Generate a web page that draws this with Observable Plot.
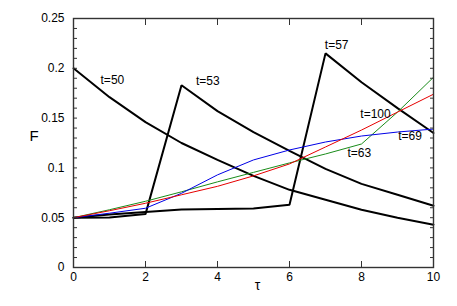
<!DOCTYPE html>
<html>
<head>
<meta charset="utf-8">
<script src="https://cdn.jsdelivr.net/npm/d3@7"></script>
<script src="https://cdn.jsdelivr.net/npm/@observablehq/plot@0.6"></script>
<style>
  html, body { margin: 0; padding: 0; background: #fff; }
  #chart svg { display: block; }
</style>
</head>
<body>
<div id="chart"></div>
<script>
const tau = [0, 1, 2, 3, 4, 5, 6, 7, 8, 9, 10];

const t50  = [0.200, 0.171, 0.146, 0.125, 0.108, 0.092, 0.078, 0.068, 0.058, 0.050, 0.043];
const t53  = [0.050, 0.0502, 0.0536, 0.183, 0.157, 0.136, 0.117, 0.099, 0.084, 0.073, 0.062];
const t57  = [0.050, 0.0532, 0.0558, 0.0582, 0.0588, 0.0592, 0.063, 0.215, 0.186, 0.160, 0.135];
const t63  = [0.050, 0.058, 0.0665, 0.076, 0.086, 0.0955, 0.105, 0.114, 0.124, 0.156, 0.191];
const t69  = [0.050, 0.0545, 0.0595, 0.0745, 0.093, 0.108, 0.118, 0.126, 0.132, 0.136, 0.139];
const t100 = [0.050, 0.057, 0.0645, 0.073, 0.0815, 0.092, 0.104, 0.121, 0.138, 0.156, 0.174];

const seriesNames = ["t=50", "t=53", "t=57", "t=63", "t=69", "t=100"];
const seriesValues = [t50, t53, t57, t63, t69, t100];
const seriesColors = ["#000", "#000", "#000", "#1a8c1a", "#0000e6", "#e60000"];
const seriesWidths = [2, 2, 2, 1, 1, 1];

const labelText = ["t=50", "t=53", "t=57", "t=100", "t=69", "t=63"];
const labelTau  = [1.08, 3.73, 7.31, 8.39, 9.35, 7.94];
const labelF    = [0.188, 0.187, 0.223, 0.154, 0.1317, 0.1147];

const xTicks = [0, 2, 4, 6, 8, 10];
const yTicks = [0, 0.05, 0.1, 0.15, 0.2, 0.25];
const yMinor = d3.range(0, 26).map(i => +(i / 100).toFixed(2));

const rows = seriesNames.flatMap((name, i) =>
  tau.map((t, j) => ({series: name, tau: t, F: seriesValues[i][j]})));

const labels = labelText.map((s, i) => ({text: s, tau: labelTau[i], F: labelF[i]}));

const lineMarks = seriesNames.map((name, i) =>
  Plot.line(rows.filter(r => r.series === name), {
    x: "tau", y: "F",
    stroke: seriesColors[i],
    strokeWidth: seriesWidths[i],
    strokeLinejoin: "miter"
  }));

const chart = Plot.plot({
  width: 457,
  height: 306,
  marginLeft: 73,
  marginRight: 24,
  marginTop: 18,
  marginBottom: 39,
  style: {fontFamily: "Liberation Sans, Arial, Helvetica, sans-serif", fontSize: "12px", color: "#000", background: "#fff"},
  x: {domain: [0, 10]},
  y: {domain: [0, 0.25]},
  marks: [
    ...lineMarks,
    // inward ticks
    Plot.axisY(yMinor, {anchor: "left", tickSize: -4, tickFormat: () => "", label: null, stroke: "#333"}),
    Plot.axisY(yMinor, {anchor: "right", tickSize: -4, tickFormat: () => "", label: null, stroke: "#333"}),
    Plot.axisX(xTicks, {anchor: "bottom", tickSize: -6, tickFormat: () => "", label: null, stroke: "#333"}),
    Plot.axisX(xTicks, {anchor: "top", tickSize: -6, tickFormat: () => "", label: null, stroke: "#333"}),
    // tick labels
    Plot.axisY(yTicks, {anchor: "left", tickSize: 0, tickPadding: 9, tickFormat: d => String(d), label: null, fill: "#000"}),
    Plot.axisX(xTicks, {anchor: "bottom", tickSize: 0, tickPadding: 5, tickFormat: d => String(d), label: null, fill: "#000"}),
    Plot.frame({stroke: "#333", strokeWidth: 1.4}),
    // axis titles
    Plot.text(["F"], {frameAnchor: "left", dx: -44, dy: -7, fontSize: 15, fill: "#000"}),
    Plot.text(["τ"], {frameAnchor: "bottom", dx: 4, dy: 22, fontSize: 14, fill: "#000"}),
    // curve labels
    Plot.text(labels, {x: "tau", y: "F", text: "text", fontSize: 12, fill: "#000"})
  ]
});

document.getElementById("chart").appendChild(chart);
</script>
</body>
</html>
